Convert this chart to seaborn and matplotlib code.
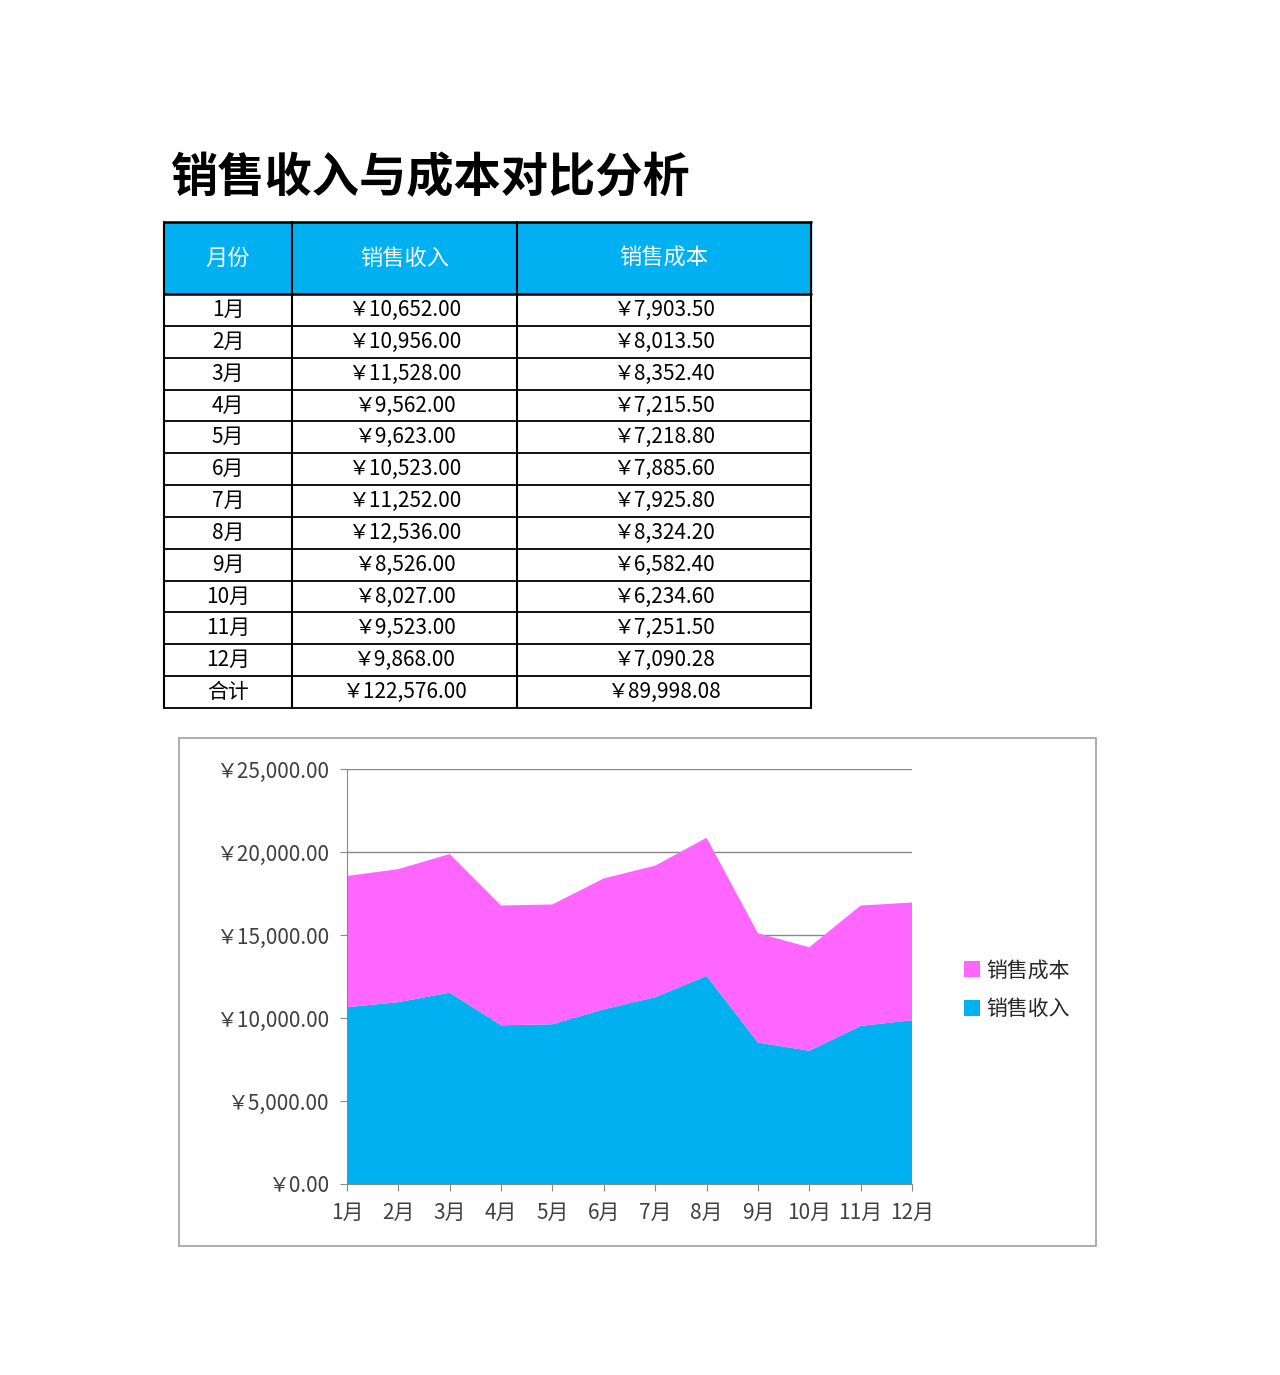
import matplotlib
matplotlib.use("Agg")
import matplotlib.pyplot as plt
import seaborn as sns
import numpy as np

sns.set_style("white")
# set fonts after seaborn style so they are not overwritten
plt.rcParams['font.family'] = 'sans-serif'
plt.rcParams['font.sans-serif'] = ['Noto Sans CJK SC', 'Noto Sans CJK JP', 'DejaVu Sans']

months = ["1月", "2月", "3月", "4月", "5月", "6月", "7月", "8月", "9月", "10月", "11月", "12月"]
revenue = [10652.00, 10956.00, 11528.00, 9562.00, 9623.00, 10523.00, 11252.00, 12536.00, 8526.00, 8027.00, 9523.00, 9868.00]
cost = [7903.50, 8013.50, 8352.40, 7215.50, 7218.80, 7885.60, 7925.80, 8324.20, 6582.40, 6234.60, 7251.50, 7090.28]
headers = ["月份", "销售收入", "销售成本"]

BLUE = "#00B0F0"
PINK = "#FF66FF"

fig = plt.figure(figsize=(12.8, 13.75), dpi=100)

# page layer in pixel coords
page = fig.add_axes([0, 0, 1, 1])
page.set_xlim(0, 1280)
page.set_ylim(1375, 0)
page.axis("off")

page.text(170, 178, "销售收入与成本对比分析", fontsize=34, fontweight="bold", va="center", ha="left", color="black")

# --- table ---
cols = [164, 292, 517, 811]
top, head_bot = 222, 294
n_rows = len(months) + 1
row_h = (708 - head_bot) / n_rows
page.add_patch(plt.Rectangle((cols[0], top), cols[-1] - cols[0], head_bot - top, color=BLUE, zorder=1))
for i, h in enumerate(headers):
    page.text((cols[i] + cols[i + 1]) / 2, (top + head_bot) / 2, h, color="white", fontsize=16, ha="center", va="center")

labels = months + ["合计"]
rev_col = revenue + [sum(revenue)]
cost_col = cost + [sum(cost)]
for r in range(n_rows):
    yc = head_bot + (r + 0.5) * row_h
    page.text((cols[0] + cols[1]) / 2, yc, labels[r], fontsize=15, ha="center", va="center", color="black")
    page.text((cols[1] + cols[2]) / 2, yc, f"￥{rev_col[r]:,.2f}", fontsize=15, ha="center", va="center", color="black")
    page.text((cols[2] + cols[3]) / 2, yc, f"￥{cost_col[r]:,.2f}", fontsize=15, ha="center", va="center", color="black")

ys = [top, head_bot] + [head_bot + (r + 1) * row_h for r in range(n_rows)]
for y in ys:
    page.plot([cols[0], cols[-1]], [y, y], color="black", lw=1.8 if y in (top, head_bot) else 1.3, zorder=2)
for x in cols:
    page.plot([x, x], [top, ys[-1]], color="black", lw=1.5, zorder=2)

# chart frame
page.add_patch(plt.Rectangle((179, 738), 917, 508, fill=False, edgecolor="#A0A0A0", lw=1.2))

# --- chart ---
ax = fig.add_axes([347 / 1280, 1 - 1184 / 1375, 565 / 1280, 415 / 1375])
x = np.arange(len(months))
ax.stackplot(x, revenue, cost, colors=[BLUE, PINK], labels=["销售收入", "销售成本"],
             linewidth=0, edgecolor="none", zorder=2)
ax.set_xlim(0, len(months) - 1)
ax.set_ylim(0, 25000)
yt = np.arange(0, 25001, 5000)
ax.set_yticks(yt)
ax.set_yticklabels([f"￥{v:,.2f}" for v in yt], fontsize=15, color="#404040")
ax.set_xticks(x)
ax.set_xticklabels(months, fontsize=15, color="#404040")
ax.grid(axis="y", color="#888888", lw=1, zorder=0)
ax.set_axisbelow(True)
for s in ["top", "right"]:
    ax.spines[s].set_visible(False)
ax.spines["left"].set_color("#888888")
ax.spines["bottom"].set_color("#888888")
ax.tick_params(axis="both", length=5, color="#888888", left=True, bottom=True, pad=8)

handles, lbls = ax.get_legend_handles_labels()
fig.legend(handles[::-1], lbls[::-1], loc="center left", bbox_to_anchor=(945 / 1280, 1 - 990 / 1375),
           frameon=False, fontsize=15, handlelength=0.8, handleheight=0.8, handletextpad=0.3, labelspacing=0.8)

fig.savefig("out.png", dpi=100)
